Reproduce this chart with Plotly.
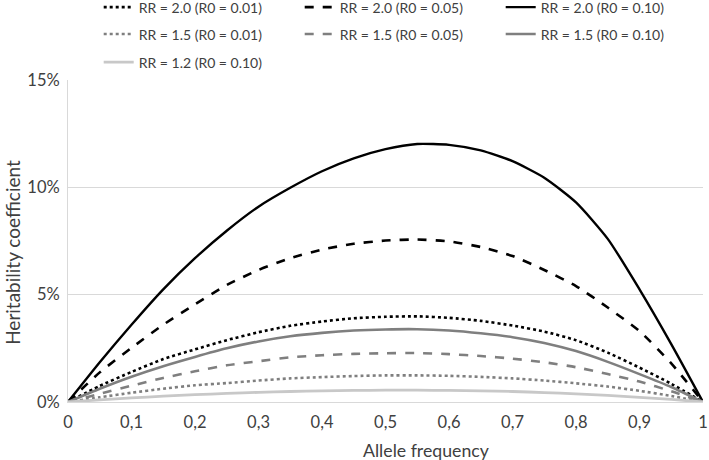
import plotly.graph_objects as go

allele_freq = [0, 0.05, 0.1, 0.15, 0.2, 0.25, 0.3, 0.35, 0.4, 0.45, 0.5,
               0.55, 0.6, 0.65, 0.7, 0.75, 0.8, 0.85, 0.9, 0.95, 1.0]

# heritability coefficient in percent
rr20_r001 = [0, 0.75, 1.4, 2.0, 2.45, 2.88, 3.25, 3.55, 3.75, 3.9, 3.97,
             3.99, 3.92, 3.78, 3.56, 3.28, 2.88, 2.3, 1.6, 0.85, 0]
rr20_r005 = [0, 1.38, 2.52, 3.6, 4.55, 5.45, 6.15, 6.7, 7.1, 7.37, 7.52,
             7.57, 7.48, 7.22, 6.8, 6.15, 5.4, 4.4, 3.3, 1.8, 0]
rr20_r010 = [0, 1.85, 3.6, 5.25, 6.7, 7.98, 9.1, 9.98, 10.75, 11.35, 11.78,
             12.02, 11.98, 11.72, 11.22, 10.45, 9.3, 7.6, 5.25, 2.7, 0]
rr15_r001 = [0, 0.22, 0.43, 0.62, 0.78, 0.88, 1.0, 1.1, 1.16, 1.21, 1.24,
             1.24, 1.22, 1.17, 1.1, 1.0, 0.87, 0.72, 0.52, 0.28, 0]
rr15_r005 = [0, 0.38, 0.76, 1.12, 1.43, 1.71, 1.9, 2.08, 2.18, 2.24, 2.27,
             2.28, 2.23, 2.14, 2.02, 1.85, 1.62, 1.3, 0.95, 0.5, 0]
rr15_r010 = [0, 0.62, 1.18, 1.67, 2.1, 2.5, 2.82, 3.06, 3.22, 3.33, 3.38,
             3.39, 3.33, 3.2, 3.02, 2.75, 2.37, 1.87, 1.3, 0.7, 0]
rr12_r010 = [0, 0.1, 0.19, 0.27, 0.34, 0.4, 0.45, 0.49, 0.52, 0.54, 0.55,
             0.55, 0.54, 0.52, 0.49, 0.44, 0.38, 0.31, 0.22, 0.12, 0]

x_tickvals = [0, 0.1, 0.2, 0.3, 0.4, 0.5, 0.6, 0.7, 0.8, 0.9, 1.0]
x_ticktext = ["0", "0,1", "0,2", "0,3", "0,4", "0,5", "0,6", "0,7", "0,8", "0,9", "1"]
y_tickvals = [0, 0.05, 0.10, 0.15]
y_ticktext = ["0%", "5%", "10%", "15%"]

series = [
    ("RR = 2.0 (R0 = 0.01)", rr20_r001, "#000000", "dot", 2.6, "legend"),
    ("RR = 2.0 (R0 = 0.05)", rr20_r005, "#000000", "dash", 2.6, "legend"),
    ("RR = 2.0 (R0 = 0.10)", rr20_r010, "#000000", "solid", 2.4, "legend"),
    ("RR = 1.5 (R0 = 0.01)", rr15_r001, "#7f7f7f", "dot", 2.6, "legend2"),
    ("RR = 1.5 (R0 = 0.05)", rr15_r005, "#7f7f7f", "dash", 2.6, "legend2"),
    ("RR = 1.5 (R0 = 0.10)", rr15_r010, "#7f7f7f", "solid", 2.6, "legend2"),
    ("RR = 1.2 (R0 = 0.10)", rr12_r010, "#c8c8c8", "solid", 2.8, "legend3"),
]

fig = go.Figure()
for name, vals, color, dash, width, leg in series:
    fig.add_trace(go.Scatter(
        x=allele_freq, y=[v / 100 for v in vals], name=name, mode="lines",
        line=dict(color=color, dash=dash, width=width, shape="spline", smoothing=0.6),
        legend=leg,
    ))

font_family = "Lato"
text_color = "#404040"
plot_left, plot_right = 68.3, 703.3
plot_top, plot_bottom = 80.0, 401.7
plot_w = plot_right - plot_left
plot_h = plot_bottom - plot_top


def row_y(yc):
    return (plot_bottom - yc) / plot_h


legend_common = dict(orientation="h", xanchor="left", x=(99 - plot_left) / plot_w,
                     yanchor="middle", entrywidth=156, entrywidthmode="pixels",
                     font=dict(family=font_family, size=14, color=text_color),
                     bgcolor="rgba(0,0,0,0)", traceorder="normal")

fig.update_layout(
    width=709, height=460,
    margin=dict(l=68, r=6, t=80, b=58, autoexpand=False),
    paper_bgcolor="white", plot_bgcolor="white",
    font=dict(family=font_family, size=14, color=text_color),
    legend=dict(**legend_common, y=row_y(7.6)),
    legend2=dict(**legend_common, y=row_y(34.5)),
    legend3=dict(**legend_common, y=row_y(62.5)),
    xaxis=dict(
        range=[0, 1], tickvals=x_tickvals, ticktext=x_ticktext,
        showgrid=False, zeroline=False, showline=True, linecolor="#d9d9d9", linewidth=1,
        ticks="", ticklabelstandoff=5,
        tickfont=dict(family=font_family, size=16.5, color=text_color),
    ),
    yaxis=dict(
        range=[0, 0.15], tickvals=y_tickvals, ticktext=y_ticktext,
        showgrid=True, gridcolor="#d9d9d9", gridwidth=1, zeroline=False,
        showline=True, linecolor="#d9d9d9", linewidth=1,
        ticks="", ticklabelstandoff=4,
        tickfont=dict(family=font_family, size=16.5, color=text_color),
    ),
    annotations=[
        dict(text="Allele frequency", xref="paper", yref="paper",
             x=(425.8 - plot_left) / plot_w, y=(plot_bottom - 450) / plot_h,
             xanchor="center", yanchor="middle", showarrow=False,
             font=dict(family=font_family, size=17.7, color=text_color)),
        dict(text="Heritability coefficient", xref="paper", yref="paper",
             x=(12 - plot_left) / plot_w, y=(plot_bottom - 252) / plot_h,
             xanchor="center", yanchor="middle", showarrow=False, textangle=-90,
             font=dict(family=font_family, size=19, color=text_color)),
    ],
)

fig.write_html("out.html", config={"displayModeBar": False},
               post_script="document.body.style.margin='0px';")
